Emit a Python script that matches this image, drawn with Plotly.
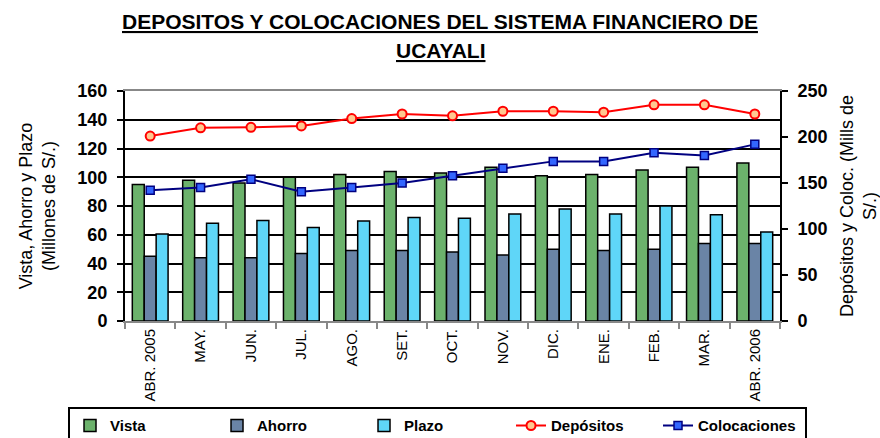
import plotly.graph_objects as go

months = ["ABR. 2005", "MAY.", "JUN.", "JUL.", "AGO.", "SET.", "OCT.", "NOV.",
          "DIC.", "ENE.", "FEB.", "MAR.", "ABR. 2006"]
vista = [95, 98, 96, 100, 102, 104, 103, 107, 101, 102, 105, 107, 110]
ahorro = [45, 44, 44, 47, 49, 49, 48, 46, 50, 49, 50, 54, 54]
plazo = [60.5, 68, 70, 65, 69.5, 72, 71.5, 74.5, 78, 74.5, 80, 74, 62]
depositos = [201, 210, 210.5, 212, 220, 225, 223, 228, 228, 227, 235, 235, 225]
colocaciones = [142, 145, 154, 140.5, 145, 150, 158, 166, 173.5, 173.5, 183, 180, 192]

title_lines = ["DEPOSITOS Y COLOCACIONES DEL SISTEMA FINANCIERO DE", "UCAYALI"]

FONT = "Liberation Sans, Arial, sans-serif"

fig = go.Figure()
fig.add_trace(go.Bar(x=months, y=vista, name="<b>Vista</b>",
                     marker=dict(color="#6cb26c", line=dict(color="black", width=1.5))))
fig.add_trace(go.Bar(x=months, y=ahorro, name="<b>Ahorro</b>",
                     marker=dict(color="#6a84a6", line=dict(color="black", width=1.5))))
fig.add_trace(go.Bar(x=months, y=plazo, name="<b>Plazo</b>",
                     marker=dict(color="#5fd6f8", line=dict(color="black", width=1.5))))
fig.add_trace(go.Scatter(x=months, y=depositos, name="<b>Depósitos</b>", yaxis="y2",
                         mode="lines+markers",
                         line=dict(color="#ff0000", width=2),
                         marker=dict(symbol="circle", size=9, color="#ffc890",
                                     line=dict(color="#ff0000", width=2))))
fig.add_trace(go.Scatter(x=months, y=colocaciones, name="<b>Colocaciones</b>", yaxis="y2",
                         mode="lines+markers",
                         line=dict(color="#000080", width=2),
                         marker=dict(symbol="square", size=8, color="#3366ff",
                                     line=dict(color="#000080", width=1.5))))

fig.update_layout(
    width=880, height=438,
    margin=dict(l=125, r=100, t=91, b=117, autoexpand=False),
    paper_bgcolor="white", plot_bgcolor="white",
    font=dict(family=FONT, color="black"),
    barmode="group", bargap=0.29, bargroupgap=0,
    xaxis=dict(type="category", range=[-0.5, len(months) - 0.5],
               tickangle=-90, tickfont=dict(size=15, family=FONT),
               showline=True, linecolor="#888888", linewidth=2, mirror=True,
               ticks="outside", tickson="boundaries", ticklen=6, tickcolor="#888888",
               tickwidth=2, showgrid=False, automargin=False),
    yaxis=dict(range=[0, 160], dtick=20, showgrid=True, gridcolor="black", gridwidth=1.5,
               showline=True, linecolor="black", linewidth=2,
               ticks="outside", ticklen=6, tickwidth=2, tickcolor="black",
               tickfont=dict(size=18, family=FONT), automargin=False,
               ticklabelstandoff=6,
               tickprefix="<b>", ticksuffix="</b>",
               title=dict(text="Vista, Ahorro y Plazo<br>(Millones de S/.)",
                          font=dict(size=18, family=FONT), standoff=17)),
    yaxis2=dict(range=[0, 250], dtick=50, overlaying="y", side="right", showgrid=False,
                showline=True, linecolor="black", linewidth=2,
                ticks="outside", ticklen=6, tickwidth=2, tickcolor="black",
                tickfont=dict(size=18, family=FONT), automargin=False,
                ticklabelstandoff=6,
                tickprefix="<b>", ticksuffix="</b>",
                title=dict(text="Depósitos y Coloc. (Mills de<br>S/.)",
                           font=dict(size=18, family=FONT), standoff=14)),
    legend=dict(orientation="h", x=-0.087, xanchor="left", y=-0.375, yanchor="top",
                bordercolor="black", borderwidth=2, bgcolor="white",
                font=dict(size=15, family=FONT), entrywidth=102, entrywidthmode="pixels",
                traceorder="normal"),
    showlegend=True,
)
fig.add_annotation(text="<b><u>" + title_lines[0] + "</u></b>", xref="paper", yref="paper",
                   x=0.481, y=1.304, xanchor="center", yanchor="middle", showarrow=False,
                   font=dict(size=21, family=FONT))
fig.add_annotation(text="<b><u>" + title_lines[1] + "</u></b>", xref="paper", yref="paper",
                   x=0.481, y=1.178, xanchor="center", yanchor="middle", showarrow=False,
                   font=dict(size=21, family=FONT))

fig.write_html("out.html", config={"displayModeBar": False},
               post_script="document.body.style.margin='0';document.body.style.overflow='hidden';")
